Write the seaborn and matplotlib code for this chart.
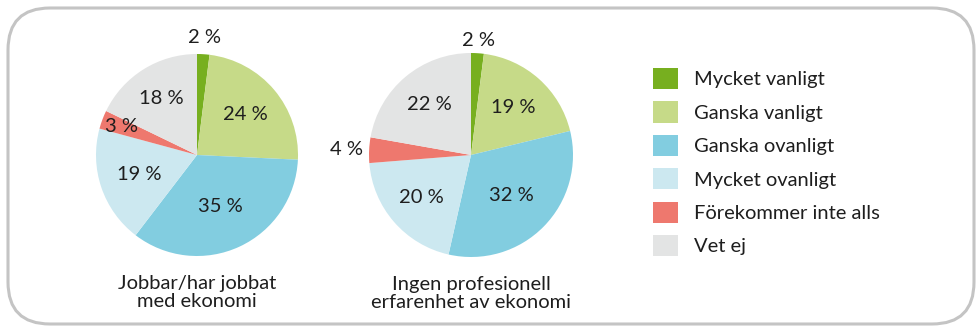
import numpy as np
import matplotlib
matplotlib.use("Agg")
import matplotlib.pyplot as plt
from matplotlib.patches import FancyBboxPatch, Patch
import seaborn as sns

sns.set_theme(style="white")
plt.rcParams["font.family"] = ["Lato", "DejaVu Sans"]

# Answer categories and their colours
categories = ["Mycket vanligt", "Ganska vanligt", "Ganska ovanligt",
              "Mycket ovanligt", "Förekommer inte alls", "Vet ej"]
colors = ["#77AF1F", "#C6DA88", "#82CDE0", "#CCE8F0", "#EE786E", "#E3E4E4"]

# Shares (%) per group
group_titles = ["Jobbar/har jobbat\nmed ekonomi",
                "Ingen profesionell\nerfarenhet av ekonomi"]
values_worked = [2, 24, 35, 19, 3, 18]
values_none = [2, 19, 32, 20, 4, 22]

# Radial position of each value label (fraction of radius)
label_dist_worked = [1.17, 0.62, 0.56, 0.6, 0.8, 0.66]
label_dist_none = [1.12, 0.62, 0.56, 0.64, 1.22, 0.64]

W, H = 976, 326
fig = plt.figure(figsize=(W / 100, H / 100), dpi=100)

# Rounded frame around the whole chart
bg = fig.add_axes([0, 0, 1, 1])
bg.set_xlim(0, W)
bg.set_ylim(H, 0)
bg.axis("off")
bg.add_patch(FancyBboxPatch((8, 8), 966, 316,
                            boxstyle="round,pad=0,rounding_size=42",
                            fc="white", ec="#C4C4C4", lw=2.2))

text_color = "#1E1E1E"
fs = 14.5


def draw_pie(cx, cy, r, values, dists, title):
    ax = fig.add_axes([(cx - r) / W, (H - cy - r) / H, 2 * r / W, 2 * r / H])
    ax.pie(values, colors=colors, startangle=90, counterclock=False,
           radius=1, wedgeprops=dict(linewidth=0))
    ax.set_xlim(-1, 1)
    ax.set_ylim(-1, 1)
    ax.set_aspect("equal")
    ax.axis("off")
    total = sum(values)
    start = 90.0
    for v, d in zip(values, dists):
        span = 360.0 * v / total
        mid = np.deg2rad(start - span / 2)
        ax.text(d * np.cos(mid), d * np.sin(mid), f"{v} %",
                ha="center", va="center", fontsize=fs,
                color=text_color, clip_on=False)
        start -= span
    fig.text(cx / W, 1 - (r + cy + 19) / H, title, ha="center", va="top",
             fontsize=fs, color=text_color, linespacing=1.1)


draw_pie(197, 155, 101, values_worked, label_dist_worked, group_titles[0])
draw_pie(471, 155, 102, values_none, label_dist_none, group_titles[1])

handles = [Patch(facecolor=c, edgecolor="none") for c in colors]
fig.legend(handles, categories, loc="upper left",
           bbox_to_anchor=(653 / W, 1 - 68 / H), frameon=False,
           fontsize=fs, handlelength=1.25, handleheight=1.25,
           handletextpad=0.8, labelspacing=0.6, borderpad=0,
           borderaxespad=0, labelcolor=text_color)

fig.savefig("out.png", dpi=100)
